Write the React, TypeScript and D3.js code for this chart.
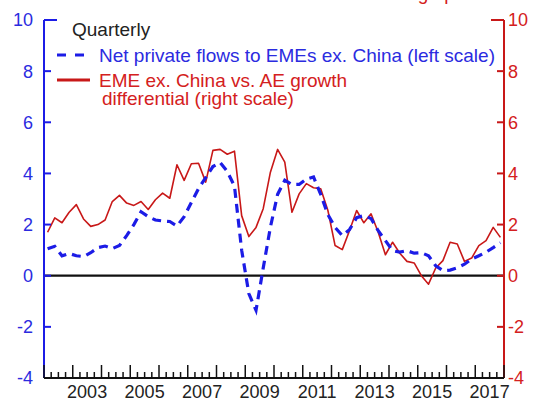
import React from "react";
import * as d3 from "d3";

// Quarterly series, 2002Q1 through 2017Q4
const FIRST_YEAR = 2002;
const LAST_YEAR = 2018;

// Net private flows to EMEs ex. China (left scale, percent)
const netFlows = [
  1.05, 1.15, 0.78, 0.87, 0.78, 0.75, 0.9, 1.1, 1.16, 1.06,
  1.18, 1.57, 2.0, 2.5, 2.31, 2.18, 2.14, 2.12, 1.94, 2.31,
  2.86, 3.41, 3.84, 4.27, 4.43, 4.08, 3.5, 1.0, -0.7, -1.35,
  0.3, 1.9, 3.18, 3.73, 3.57, 3.57, 3.78, 3.86, 3.18, 2.39,
  1.89, 1.57, 1.8, 2.27, 2.35, 2.24, 1.76, 1.37, 0.98, 0.92,
  0.98, 0.88, 0.9, 0.78, 0.39, 0.2, 0.22, 0.31, 0.45, 0.65,
  0.78, 0.92, 1.1, 1.29,
];

// EME ex. China vs. AE growth differential (right scale, percentage points)
const growthDiff = [
  1.7, 2.26, 2.07, 2.48, 2.78, 2.22, 1.93, 2.0, 2.18, 2.9,
  3.14, 2.84, 2.75, 2.9, 2.59, 2.97, 3.23, 3.03, 4.34, 3.73,
  4.38, 4.4, 3.66, 4.9, 4.94, 4.75, 4.87, 2.35, 1.53, 1.89,
  2.62, 4.05, 4.94, 4.44, 2.48, 3.2, 3.6, 3.44, 3.4, 2.55,
  1.18, 1.02, 1.76, 2.55, 2.07, 2.42, 1.7, 0.82, 1.31, 0.88,
  0.56, 0.5, 0.0, -0.33, 0.3, 0.59, 1.31, 1.24, 0.56, 0.69,
  1.18, 1.37, 1.89, 1.5,
];

const leftTicks = [-4, -2, 0, 2, 4, 6, 8, 10];
const rightTicks = [-4, -2, 0, 2, 4, 6, 8, 10];
const yearLabels = [2003, 2005, 2007, 2009, 2011, 2013, 2015, 2017];

const BLUE = "#1c1ce6";
const BLUE_TEXT = "#2b2bdf";
const RED = "#c81818";
const RED_TEXT = "#d42020";
const FONT = "'Liberation Sans', Arial, Helvetica, sans-serif";

export default function App() {
  const W = 539;
  const H = 403;
  const left = 44;
  const right = 504;
  const top = 20;
  const bottom = 378;

  const x = d3.scaleLinear().domain([FIRST_YEAR, LAST_YEAR]).range([left, right]);
  const yL = d3.scaleLinear().domain([-4, 10]).range([bottom, top]);
  const yR = d3.scaleLinear().domain([-4, 10]).range([bottom, top]);

  const qx = (i: number) => x(FIRST_YEAR + i / 4 + 0.125);

  const flowLine = d3
    .line<number>()
    .x((_, i) => qx(i))
    .y((d) => yL(d));
  const growthLine = d3
    .line<number>()
    .x((_, i) => qx(i))
    .y((d) => yR(d));

  const quarterTicks = d3.range(FIRST_YEAR * 4, LAST_YEAR * 4 + 1).map((q) => q / 4);

  return (
    <svg
      width={W}
      height={H}
      viewBox={`0 0 ${W} ${H}`}
      style={{ position: "absolute", left: 0, top: 0, background: "#fff" }}
      fontFamily={FONT}
    >
      <rect x={0} y={0} width={W} height={H} fill="#fff" />

      {/* unit label, sitting above the frame */}
      <text x={495} y={-0.5} textAnchor="end" fontSize={19} fill={RED_TEXT}>
        Percentage points
      </text>

      {/* zero line */}
      <line x1={left} x2={right} y1={yL(0)} y2={yL(0)} stroke="#111" strokeWidth={2.2} />

      {/* series */}
      <path d={growthLine(growthDiff) || ""} fill="none" stroke={RED} strokeWidth={1.6} strokeLinejoin="round" />
      <path
        d={flowLine(netFlows) || ""}
        fill="none"
        stroke={BLUE}
        strokeWidth={3.2}
        strokeDasharray="9,6"
      />

      {/* left axis */}
      <line x1={left} x2={left} y1={top} y2={bottom} stroke={BLUE} strokeWidth={2} />
      {leftTicks.map((t) => (
        <g key={`l${t}`}>
          <line
            x1={left}
            x2={left + (t === 10 ? 13 : 7)}
            y1={yL(t)}
            y2={yL(t)}
            stroke={BLUE}
            strokeWidth={2}
          />
          <text x={33} y={yL(t)} dy="0.36em" textAnchor="end" fontSize={18} fill={BLUE_TEXT}>
            {t}
          </text>
        </g>
      ))}

      {/* right axis */}
      <line x1={right} x2={right} y1={top} y2={bottom} stroke={RED} strokeWidth={2} />
      {rightTicks.map((t) => (
        <g key={`r${t}`}>
          <line
            x1={right}
            x2={right - (t === 10 ? 13 : 7)}
            y1={yR(t)}
            y2={yR(t)}
            stroke={RED}
            strokeWidth={2}
          />
          <text x={508} y={yR(t)} dy="0.36em" textAnchor="start" fontSize={18} fill={RED_TEXT}>
            {t}
          </text>
        </g>
      ))}

      {/* bottom axis */}
      <line x1={left} x2={right} y1={bottom} y2={bottom} stroke="#111" strokeWidth={2} />
      {quarterTicks.map((q) => (
        <line
          key={`q${q}`}
          x1={x(q)}
          x2={x(q)}
          y1={bottom}
          y2={bottom - (Number.isInteger(q) ? 13 : 6)}
          stroke="#111"
          strokeWidth={1.5}
        />
      ))}
      {yearLabels.map((yr) => (
        <text key={yr} x={x(yr + 0.5)} y={398} textAnchor="middle" fontSize={18} fill="#222">
          {yr}
        </text>
      ))}

      {/* legend */}
      <text x={72} y={35.5} fontSize={19} fill="#222">
        Quarterly
      </text>
      <line x1={57} x2={85} y1={55} y2={55} stroke={BLUE} strokeWidth={3.2} strokeDasharray="9,9" />
      <text x={99} y={62} fontSize={19} fill={BLUE_TEXT}>
        Net private flows to EMEs ex. China (left scale)
      </text>
      <line x1={57} x2={90} y1={80} y2={80} stroke={RED} strokeWidth={3} />
      <text x={99} y={87} fontSize={19} fill={RED_TEXT}>
        EME ex. China vs. AE growth
      </text>
      <text x={102} y={104.5} fontSize={19} fill={RED_TEXT}>
        differential (right scale)
      </text>
    </svg>
  );
}
